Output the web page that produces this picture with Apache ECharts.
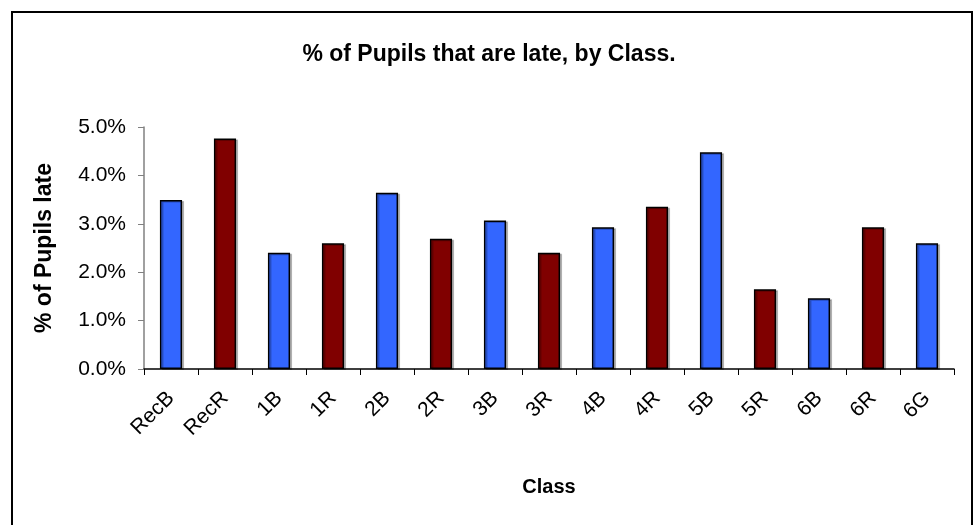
<!DOCTYPE html>
<html lang="en">

<head>
  <meta charset="UTF-8">
  <title>% of Pupils that are late, by Class.</title>
  <script src="https://cdn.jsdelivr.net/npm/echarts@6/dist/echarts.min.js"></script>
  <style>
    body {
      margin: 0;
      padding: 0;
      background-color: #ffffff;
    }
  </style>
</head>

<body>
  <div id="chart" style="width: 978px; height: 525px;"></div>
  <script>
    // class names and % of pupils late
    var classes = ['RecB', 'RecR', '1B', '1R', '2B', '2R', '3B', '3R', '4B', '4R', '5B', '5R', '6B', '6R', '6G'];
    var latePct = [3.49, 4.76, 2.40, 2.60, 3.64, 2.69, 3.07, 2.40, 2.93, 3.35, 4.48, 1.65, 1.46, 2.93, 2.60];
    var yTicks = [0, 1, 2, 3, 4, 5];

    var font = 'Arial, "Liberation Sans", sans-serif';
    var chartDom = document.getElementById('chart');
    var myChart = echarts.init(chartDom);
    var option;

    option = {
      animation: false,
      title: {
        text: '% of Pupils that are late, by Class.',
        left: 'center',
        top: 43,
        padding: 0,
        textStyle: {
          fontFamily: font,
          fontSize: 23,
          fontWeight: 'bold',
          color: '#000'
        }
      },
      graphic: [
        {
          type: 'rect',
          shape: { x: 12, y: 12, width: 960, height: 530 },
          style: { fill: 'none', stroke: '#000', lineWidth: 2 },
          silent: true
        }
      ],
      grid: {
        left: 144,
        right: 24,
        top: 127,
        bottom: 156
      },
      xAxis: {
        type: 'category',
        data: classes,
        name: 'Class',
        nameLocation: 'middle',
        nameGap: 108,
        nameTextStyle: {
          fontFamily: font,
          fontSize: 20,
          fontWeight: 'bold',
          color: '#000',
          verticalAlign: 'top'
        },
        axisLine: { lineStyle: { color: '#000', width: 1.5 } },
        axisTick: { show: true, length: 6, lineStyle: { color: '#000' } },
        axisLabel: {
          rotate: 45,
          margin: 26,
          fontFamily: font,
          fontSize: 21,
          color: '#000'
        }
      },
      yAxis: {
        type: 'value',
        min: yTicks[0],
        max: yTicks[yTicks.length - 1],
        interval: 1,
        name: '% of Pupils late',
        nameLocation: 'middle',
        nameGap: 88,
        nameTextStyle: {
          fontFamily: font,
          fontSize: 23,
          fontWeight: 'bold',
          color: '#000'
        },
        splitLine: { show: false },
        axisLine: { show: true, lineStyle: { color: '#808080', width: 1.5 } },
        axisTick: { show: true, length: 6, lineStyle: { color: '#808080' } },
        axisLabel: {
          margin: 18,
          fontFamily: font,
          fontSize: 21,
          color: '#000',
          formatter: function (v) { return v.toFixed(1) + '%'; }
        }
      },
      series: [
        {
          type: 'bar',
          barCategoryGap: '59%',
          data: latePct.map(function (v, i) {
            var isRed = classes[i].slice(-1) === 'R';
            return {
              value: v,
              itemStyle: { color: isRed ? '#800000' : '#3366FF' }
            };
          }),
          itemStyle: {
            borderColor: '#000',
            borderWidth: 1.5,
            shadowColor: 'rgba(0,0,0,0.25)',
            shadowOffsetX: 2,
            shadowOffsetY: 1,
            shadowBlur: 0
          }
        }
      ]
    };

    option && myChart.setOption(option);
  </script>
</body>

</html>
